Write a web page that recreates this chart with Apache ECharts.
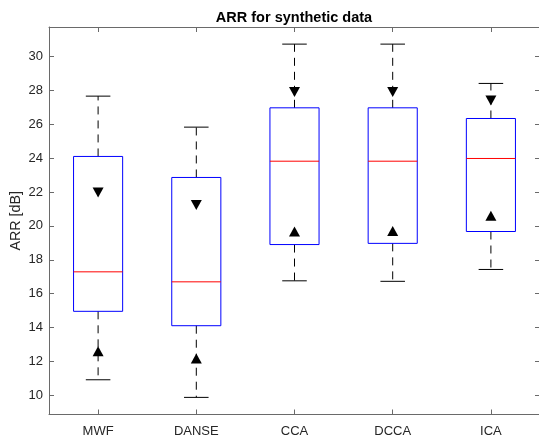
<!DOCTYPE html>
<html>
<head>
<meta charset="utf-8">
<script src="https://cdn.jsdelivr.net/npm/echarts@6/dist/echarts.min.js"></script>
<style>html,body{margin:0;padding:0;background:#fff}#c{width:539px;height:437px}</style>
</head>
<body>
<div id="c"></div>
<script>
// ---- data ----
const categories = ['MWF', 'DANSE', 'CCA', 'DCCA', 'ICA'];
const lowerWhisker = [10.92, 9.88, 16.76, 16.73, 17.43];
const q1 = [14.96, 14.11, 18.90, 18.97, 19.67];
const median = [17.29, 16.70, 23.82, 23.82, 23.98];
const q3 = [24.10, 22.86, 26.97, 26.97, 26.34];
const upperWhisker = [27.66, 25.83, 30.73, 30.73, 28.41];
const notchLow = [12.60, 12.18, 19.67, 19.70, 20.60];
const notchHigh = [21.97, 21.23, 27.90, 27.90, 27.40];
const yTicks = [10, 12, 14, 16, 18, 20, 22, 24, 26, 28, 30];
const yMin = 8.87, yMax = 31.74;

const seriesData = categories.map((c, i) => [i, lowerWhisker[i], q1[i], median[i], q3[i], upperWhisker[i], notchLow[i], notchHigh[i]]);
const medianData = categories.map((c, i) => [i, median[i]]);

const FONT = "'Liberation Sans', Arial, Helvetica, sans-serif";
const AXIS = '#6a6a6a';
const TXT = '#262626';

function renderBox(params, api) {
  const idx = api.value(0);
  const bw = api.size([1, 0])[0];
  const boxW = bw * 0.5, capW = bw * 0.25;
  const p = (v) => api.coord([idx, v]);
  const cx = p(api.value(3))[0];
  const yLW = p(api.value(1))[1], yQ1 = p(api.value(2))[1];
  const yQ3 = p(api.value(4))[1], yUW = p(api.value(5))[1];
  const yNL = p(api.value(6))[1], yNH = p(api.value(7))[1];
  const children = [];
  const solid = (x1, y1, x2, y2, color) => ({type: 'line', shape: {x1, y1, x2, y2}, style: {stroke: color, fill: null, lineWidth: 1, lineDash: null}});
  const dashed = (x1, y1, x2, y2) => ({type: 'line', shape: {x1, y1, x2, y2}, style: {stroke: '#000', fill: null, lineWidth: 1, lineDash: [8, 6]}});
  children.push(dashed(cx, yQ3, cx, yUW));
  children.push(dashed(cx, yQ1, cx, yLW));
  children.push(solid(cx - capW / 2, yUW, cx + capW / 2, yUW, '#000'));
  children.push(solid(cx - capW / 2, yLW, cx + capW / 2, yLW, '#000'));
  children.push({type: 'rect', shape: {x: cx - boxW / 2, y: yQ3, width: boxW, height: yQ1 - yQ3}, style: {fill: null, stroke: '#0000ff', lineWidth: 1, lineDash: null}});
  const tw = 11, th = 10;
  children.push({type: 'polygon', shape: {points: [[cx - tw / 2, yNH - th / 2], [cx + tw / 2, yNH - th / 2], [cx, yNH + th / 2]]}, style: {fill: '#000', stroke: null}});
  children.push({type: 'polygon', shape: {points: [[cx - tw / 2, yNL + th / 2], [cx + tw / 2, yNL + th / 2], [cx, yNL - th / 2]]}, style: {fill: '#000', stroke: null}});
  return {type: 'group', children};
}

function renderMedian(params, api) {
  const idx = api.value(0);
  const bw = api.size([1, 0])[0];
  const boxW = bw * 0.5;
  const c = api.coord([idx, api.value(1)]);
  return {type: 'line', z2: 50, shape: {x1: c[0] - boxW / 2, y1: c[1], x2: c[0] + boxW / 2, y2: c[1]},
          style: {stroke: '#ff0000', lineWidth: 1}};
}

const chart = echarts.init(document.getElementById('c'), null, {renderer: 'canvas'});
chart.setOption({
  animation: false,
  backgroundColor: '#fff',
  title: {
    text: 'ARR for synthetic data',
    left: 289, top: 5, textAlign: 'center',
    textStyle: {fontFamily: FONT, fontSize: 14.5, fontWeight: 'bold', color: '#000'}
  },
  grid: {left: 49, right: -1, top: 27, bottom: 22.5, containLabel: false, outerBoundsMode: 'none'},
  xAxis: [{
    type: 'category', data: categories, position: 'bottom', boundaryGap: true,
    axisLine: {show: true, lineStyle: {color: AXIS, width: 1}},
    axisTick: {show: true, inside: true, length: 5, alignWithLabel: true, lineStyle: {color: AXIS}},
    axisLabel: {margin: 10, fontFamily: FONT, fontSize: 13, color: TXT},
    splitLine: {show: false}
  }, {
    type: 'category', data: categories, position: 'top', boundaryGap: true,
    axisLine: {show: true, lineStyle: {color: AXIS, width: 1}},
    axisTick: {show: true, inside: true, length: 5, alignWithLabel: true, lineStyle: {color: AXIS}},
    axisLabel: {show: false}, splitLine: {show: false}
  }],
  yAxis: [{
    type: 'value', min: yMin, max: yMax, position: 'left',
    name: 'ARR [dB]', nameLocation: 'middle', nameGap: 26, nameMoveOverlap: false,
    nameTextStyle: {fontFamily: FONT, fontSize: 14.3, color: TXT},
    axisLine: {show: true, lineStyle: {color: AXIS, width: 1}},
    axisTick: {show: true, inside: true, length: 5, customValues: yTicks, lineStyle: {color: AXIS}},
    axisLabel: {margin: 6, fontFamily: FONT, fontSize: 13, color: TXT, customValues: yTicks},
    splitLine: {show: false}
  }, {
    type: 'value', min: yMin, max: yMax, position: 'right',
    axisLine: {show: true, lineStyle: {color: AXIS, width: 1}},
    axisTick: {show: true, inside: true, length: 5, customValues: yTicks, lineStyle: {color: AXIS}},
    axisLabel: {show: false, customValues: yTicks},
    splitLine: {show: false}
  }],
  series: [{
    type: 'custom', xAxisIndex: 0, yAxisIndex: 0,
    renderItem: renderBox,
    encode: {x: 0, y: [1, 2, 3, 4, 5, 6, 7]},
    data: seriesData
  }, {
    type: 'custom', xAxisIndex: 0, yAxisIndex: 0, z: 5,
    renderItem: renderMedian,
    encode: {x: 0, y: 1},
    data: medianData
  }]
});
</script>
</body>
</html>
